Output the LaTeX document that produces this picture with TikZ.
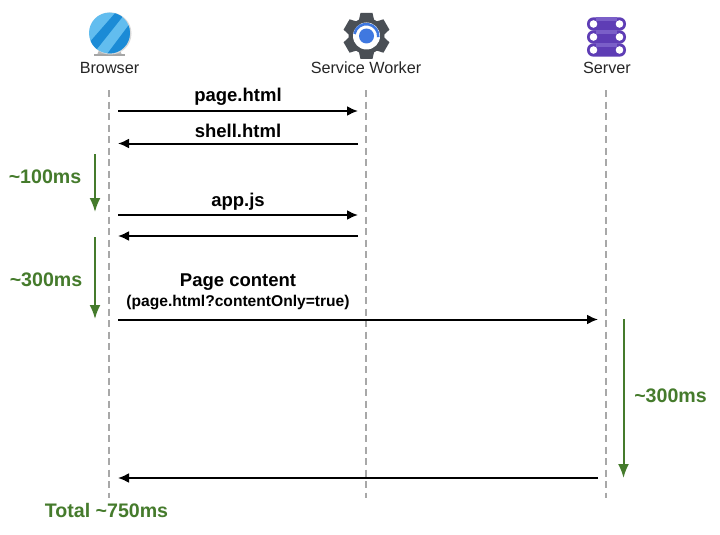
\documentclass[tikz,border=0pt]{standalone}
\usepackage{fontspec}
\setmainfont{Liberation Sans}
\usetikzlibrary{arrows.meta}
\definecolor{grn}{HTML}{457B2C}
\definecolor{lifegray}{HTML}{A8A8A8}
\definecolor{gearc}{HTML}{4A4F55}
\definecolor{blueA}{HTML}{62BDEF}
\definecolor{blueB}{HTML}{1B8BD6}
\definecolor{purA}{HTML}{5E3DB5}
\definecolor{purB}{HTML}{7A5FC8}
\definecolor{gearblue}{HTML}{3F78E0}
\tikzset{
 x=1pt,y=-1pt,
 life/.style={draw=lifegray,line width=1.8pt,dash pattern=on 7pt off 4.5pt},
 msg/.style={draw=black,line width=2pt,-{Latex[length=11pt,width=10pt]}},
 timing/.style={draw=grn,line width=2pt,-{Latex[length=14pt,width=11pt]}},
 actor/.style={font=\fontsize{16.2}{19}\selectfont,text=black!85,inner sep=0pt,anchor=base},
 msglab/.style={font=\bfseries\fontsize{18.5}{22}\selectfont,inner sep=0pt,anchor=base},
 sublab/.style={font=\bfseries\fontsize{15.6}{18}\selectfont,inner sep=0pt,anchor=base},
 timelab/.style={font=\bfseries\fontsize{19.6}{23}\selectfont,text=grn,inner sep=0pt,anchor=base},
}
\begin{document}
\begin{tikzpicture}
\useasboundingbox[fill=white] (0,0) rectangle (720,535);
% browser icon
\fill[gray!55] (97,55) -- (122,55) -- (119,48) -- (100,48) -- cycle;
\fill[black!35] (94,54) rectangle (125,56);
\fill[gray!30] (110.5,33.5) circle (21);
\begin{scope}
\clip (109.5,33) circle (20.5);
\fill[blueA] (88,12) rectangle (131,54);
\fill[blueB] (88,44) -- (116,12) -- (124,15) -- (93,54) -- cycle;
\fill[blueB] (131,22) -- (131,54) -- (107,54) -- cycle;
\end{scope}
% gear icon
\fill[gearc] (366.5,36) circle (18);
\foreach \a in {0,60,...,300}
  \fill[gearc,rotate around={\a:(366.5,36)}] (360.5,13) -- (372.5,13) -- (375,24) -- (358,24) -- cycle;
\fill[white] (366.5,36) circle (13.5);
\fill[gearblue] (366.5,36) circle (7.5);
\draw[line width=2.6pt,gearblue] (354.5,34) arc[start angle=-170,end angle=5,radius=12];
% server icon
\foreach \yy in {24,37,50}{
  \fill[purA,rounded corners=6.5pt] (587,\yy-6.7) rectangle (626,\yy+6.7);
  \fill[purB] (596,\yy-6.7) rectangle (617,\yy-3);
  \fill[white] (593.5,\yy) circle (3.8);
  \fill[white] (619.5,\yy) circle (3.8);
}
% actors
\node[actor] (browser) at (109.5,74) {Browser};
\node[actor] (sw) at (366,74) {Service Worker};
\node[actor] (server) at (607,74) {Server};
% lifelines
\coordinate (bT) at (109,90); \coordinate (bB) at (109,498);
\coordinate (sT) at (366,90); \coordinate (sB) at (366,498);
\coordinate (vT) at (606,90); \coordinate (vB) at (606,498);
\draw[life] (bT) -- (bB);
\draw[life] (sT) -- (sB);
\draw[life] (vT) -- (vB);
% message end points
\foreach \n/\yy in {1/111,2/143.5,3/215,4/236,5/319.5,6/478}{
  \coordinate (bm\n) at (118,\yy);
  \coordinate (sm\n) at (358,\yy);
  \coordinate (vm\n) at (598,\yy);
}
\draw[msg] (bm1) -- (sm1);
\draw[msg] (sm2) -- (bm2);
\draw[msg] (bm3) -- (sm3);
\draw[msg] (sm4) -- (bm4);
\draw[msg] (bm5) -- (vm5);
\draw[msg] (vm6) -- (bm6);
\node[msglab] (l1) at (238,101.5) {page.html};
\node[msglab] (l2) at (238,137) {shell.html};
\node[msglab] (l3) at (238,206.5) {app.js};
\node[msglab] (l4) at (238,286) {Page content};
\node[sublab] (l5) at (238,306) {(page.html?contentOnly=true)};
% timings
\coordinate (t1a) at (95,154); \coordinate (t1b) at (95,212);
\coordinate (t2a) at (95,237); \coordinate (t2b) at (95,319);
\coordinate (t3a) at (623.5,319); \coordinate (t3b) at (623.5,478);
\draw[timing] (t1a) -- (t1b);
\draw[timing] (t2a) -- (t2b);
\draw[timing] (t3a) -- (t3b);
\node[timelab] (t1) at (45,183.5) {\char126 100ms};
\node[timelab] (t2) at (46,286.5) {\char126 300ms};
\node[timelab] (t3) at (670.5,402.5) {\char126 300ms};
\node[timelab] (t4) at (106.5,517.5) {Total \char126 750ms};
\end{tikzpicture}
\end{document}
